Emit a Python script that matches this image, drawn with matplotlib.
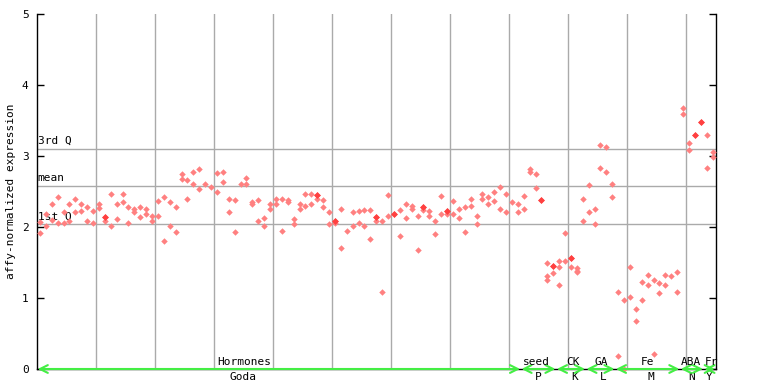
import numpy as np
import matplotlib
matplotlib.use("Agg")
import matplotlib.pyplot as plt

nan = np.nan

# two (sometimes three) replicate values per sample position
rep_a = [2.07, 2.19, 2.33, 2.42, 2.21, 2.33, 2.40, 2.32, 2.28, 2.23,
         2.33, 2.14, 2.47, 2.33, 2.47, 2.28, 2.26, 2.28, 2.26, 2.16,
         2.36, 2.42, 2.35, 2.28, 2.75, 2.66, 2.77, 2.81, 2.60, 2.57,
         2.76, 2.78, 2.39, 2.38, 2.60, 2.69, 2.35, 2.38, 2.12, 2.33,
         2.39, 2.39, 2.38, 2.11, 2.33, 2.47, 2.46, 2.45, 2.38, 2.21,
         2.08, 2.25, 1.94, 2.21, 2.22, 2.24, 2.24, 2.14, 2.08, 2.45,
         2.18, 2.24, 2.32, 2.29, 2.16, 2.28, 2.22, 2.08, 2.43, 2.22,
         2.36, 2.26, 2.28, 2.40, 2.15, 2.46, 2.42, 2.49, 2.57, 2.47,
         2.35, 2.33,
         2.43, 2.81, 2.74, 2.38, 1.50, 1.45,
         1.52, 1.92, 1.57, 1.42, 2.39,
         2.59, 2.26, 3.16, 3.12, 2.60,
         1.08, 0.97, 1.43, 0.85, 1.22, 1.32, 1.26, 1.21, 1.32, 1.31, 1.36,
         3.67, 3.18, 3.30, 3.48,
         3.29, 3.05]
rep_b = [1.91, 2.01, 2.10, 2.05, 2.05, 2.08, 2.21, 2.23, 2.08, 2.05,
         2.27, 2.09, 2.01, 2.11, 2.35, 2.05, 2.21, 2.14, 2.19, 2.08,
         2.16, 1.80, 2.02, 1.93, 2.67, 2.39, 2.60, 2.53, nan, nan,
         2.49, 2.64, 2.21, 1.93, nan, 2.60, 2.32, 2.09, 2.01, 2.25,
         2.33, 1.95, 2.35, 2.04, 2.25, 2.29, 2.33, 2.40, 2.28, 2.04,
         2.05, 1.70, nan, 2.01, 2.05, 2.01, 1.83, 2.09, 1.08, 2.15,
         nan, 1.88, 2.12, 2.26, 1.67, 2.24, 2.16, 1.90, 2.18, 2.19,
         2.19, 2.12, 1.93, 2.29, 2.04, 2.39, 2.32, 2.36, 2.26, 2.21,
         nan, 2.21,
         2.26, 2.78, 2.55, nan, 1.31, 1.35,
         1.43, 1.52, 1.44, 1.38, 2.08,
         2.21, 2.04, 2.83, 2.78, 2.42,
         0.18, 0.00, 1.02, 0.68, 0.97, 1.19, 0.21, 1.07, 1.18, nan, 1.08,
         3.59, 3.09, nan, nan,
         2.83, 2.98]
rep_c = [nan] * 115
rep_c[86] = 1.25
rep_c[88] = 1.18
rep_c[91] = 1.36
filled = [11, 47, 50, 57, 60, 65, 69, 85, 87, 90, 111, 112]

groups = ["Hormones", "seed", "CK", "GA", "Fe", "ABA", "Fr"]
codes = ["Goda", "P", "K", "L", "M", "N", "Y"]
group_start = [0, 82, 88, 93, 98, 109, 113]
group_end = [82, 88, 93, 98, 109, 113, 115]
label_pos = [35.1, 84.7, 90.8, 95.7, 103.5, 110.9, 114.3]
code_pos = [35.0, 85.0, 91.1, 96.0, 104.0, 111.0, 113.9]

q_values = [3.10, 2.58, 2.04]
q_names = ["3rd Q", "mean", "1st Q"]

plt.rcParams['font.family'] = ['DejaVu Sans Mono']
fig = plt.figure(figsize=(7.68, 3.84), dpi=100)
ax = fig.add_axes([37 / 768, 15 / 384, 678.5 / 768, 355 / 384])

n = len(rep_a)
x = np.arange(n) + 0.5
for vals in (rep_a, rep_b, rep_c):
    v = np.array(vals, dtype=float)
    ax.plot(x, v, 'D', ms=3.3, color='#ff8080', mew=0, zorder=4, clip_on=False)
fx = np.array(filled) + 0.5
ax.plot(fx, np.array(rep_a)[filled], 'D', ms=3.5, color='#ff4040', mew=0, zorder=5)

for k in range(10, 115, 10):
    ax.axvline(k, color='#aaaaaa', lw=1, zorder=1)
for q, name in zip(q_values, q_names):
    ax.axhline(q, color='#aaaaaa', lw=1, zorder=1)
    ax.text(0.1, q + 0.04, name, fontsize=8, ha='left', va='bottom', zorder=3)

for g, c, s, e, lp, cp in zip(groups, codes, group_start, group_end, label_pos, code_pos):
    ax.annotate('', xy=(e, 0), xytext=(s, 0),
                arrowprops=dict(arrowstyle='<->,head_length=0.7,head_width=0.35',
                                color='#44ee44', lw=1.5,
                                shrinkA=0.5, shrinkB=0.5, mutation_scale=8),
                zorder=6, annotation_clip=False)
    ax.text(lp, 0.035, g, fontsize=8, ha='center', va='bottom', zorder=7)
    ax.text(cp, -0.04, c, fontsize=8, ha='center', va='top', clip_on=False)

ax.set_xlim(0, 115)
ax.set_ylim(0, 5)
ax.set_xticks([])
ax.set_yticks([0, 1, 2, 3, 4, 5])
ax.tick_params(axis='y', direction='in', length=5, width=1, pad=6,
               labelsize=8, right=True)
ax.spines['top'].set_visible(False)
for side in ('left', 'right', 'bottom'):
    ax.spines[side].set_linewidth(1)
ax.set_ylabel('affy-normalized expression', fontsize=8, labelpad=4)

fig.savefig('out.png', dpi=100)
